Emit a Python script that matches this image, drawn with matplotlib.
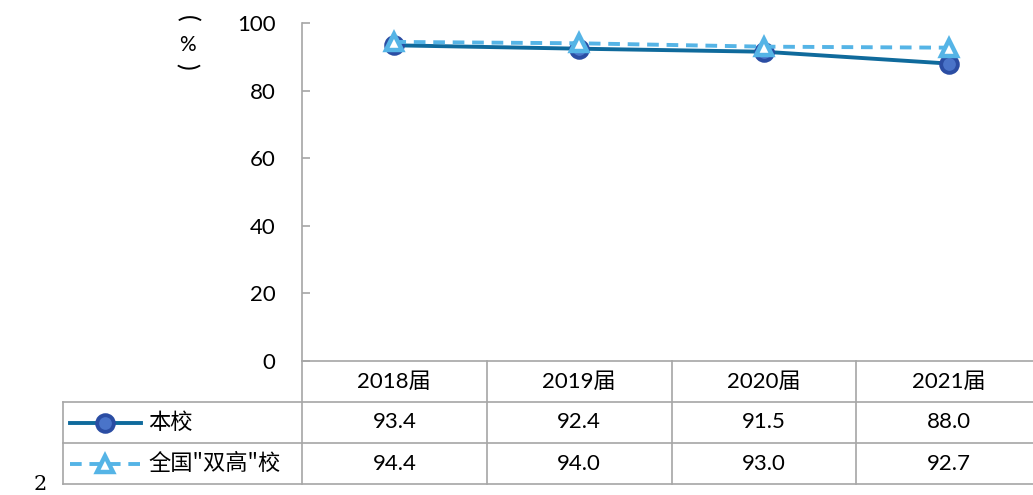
import matplotlib.pyplot as plt

plt.rcParams['font.family'] = ['Lato', 'Noto Sans CJK SC', 'DejaVu Sans']

# data
years = ['2018届', '2019届', '2020届', '2021届']
school = [93.4, 92.4, 91.5, 88.0]
national = [94.4, 94.0, 93.0, 92.7]
series_names = ['本校', '全国"双高"校']
y_ticks = [0, 20, 40, 60, 80, 100]

grid_color = '#A6A6A6'
dark_blue = '#0F6A9C'
marker_blue = '#4A74C9'
marker_edge = '#2B4DA3'
light_blue = '#55B4E6'

W, H = 1033, 495
fig = plt.figure(figsize=(W / 100, H / 100), dpi=100)

# main plot area (last column runs past the right edge)
left, right, top, bottom = 302, 1041, 23, 361
ax = fig.add_axes([left / W, 1 - bottom / H, (right - left) / W, (bottom - top) / H])
x = [i + 0.5 for i in range(len(years))]

ax.plot(x, school, color=dark_blue, lw=2.8, marker='o', ms=12,
        mfc=marker_blue, mec=marker_edge, mew=2.8, zorder=3)
ax.plot(x, national, color=light_blue, lw=2.8, ls=(0, (3, 2)), marker='^', ms=12,
        mfc='white', mec=light_blue, mew=3.2, zorder=4)

ax.set_xlim(0, len(years))
ax.set_ylim(0, 100)
ax.set_yticks(y_ticks)
ax.set_xticks([])
for s in ['top', 'right']:
    ax.spines[s].set_visible(False)
for s in ['left', 'bottom']:
    ax.spines[s].set_color(grid_color)
    ax.spines[s].set_linewidth(1.2)
ax.tick_params(axis='y', direction='in', length=6, width=1.2, color=grid_color,
               labelsize=16, pad=19)

# vertical unit label (%)
fig.text(187 / W, 1 - 18 / H, '(', rotation=-90, fontsize=18, ha='center', va='center')
fig.text(187 / W, 1 - 45 / H, '%', fontsize=15, ha='center', va='center')
fig.text(187 / W, 1 - 66 / H, ')', rotation=-90, fontsize=18, ha='center', va='center')

# data table below the plot
tb_top, tb_bottom = 361, 484
tax = fig.add_axes([left / W, 1 - tb_bottom / H, (right - left) / W, (tb_bottom - tb_top) / H])
tax.set_xlim(0, len(years))
tax.set_ylim(3, 0)
tax.axis('off')
leg_x = -(left - 63) / ((right - left) / len(years))

for r in [1, 2, 3]:
    tax.plot([leg_x, len(years)], [r, r], color=grid_color, lw=1.2, clip_on=False)
tax.plot([leg_x, leg_x], [1, 3], color=grid_color, lw=1.2, clip_on=False)
for c in range(len(years)):
    tax.plot([c, c], [0, 3], color=grid_color, lw=1.2, clip_on=False)

for i, yr in enumerate(years):
    tax.text(i + 0.5, 0.5, yr, ha='center', va='center', fontsize=16)
    tax.text(i + 0.5, 1.5, f'{school[i]:.1f}', ha='center', va='center', fontsize=16)
    tax.text(i + 0.5, 2.5, f'{national[i]:.1f}', ha='center', va='center', fontsize=16)

# legend keys inside the table
kx0, kx1 = leg_x + 0.04, leg_x + 0.42
km = (kx0 + kx1) / 2
tax.plot([kx0, kx1], [1.5, 1.5], color=dark_blue, lw=2.8, clip_on=False)
tax.plot([km], [1.5], marker='o', ms=12, mfc=marker_blue, mec=marker_edge, mew=2.8,
         clip_on=False)
tax.plot([kx0, kx1], [2.5, 2.5], color=light_blue, lw=2.8, ls=(0, (3, 2)), clip_on=False)
tax.plot([km], [2.5], marker='^', ms=12, mfc='white', mec=light_blue, mew=3.2, clip_on=False)
tax.text(kx1 + 0.04, 1.5, series_names[0], ha='left', va='center', fontsize=16,
         family=['Noto Sans CJK SC'])
tax.text(kx1 + 0.04, 2.5, series_names[1], ha='left', va='center', fontsize=16,
         family=['Noto Sans CJK SC'])

fig.text(40 / W, 1 - 485 / H, '2', fontsize=15, ha='center', va='center',
         family=['DejaVu Serif'])

fig.savefig('out.png', dpi=100)
